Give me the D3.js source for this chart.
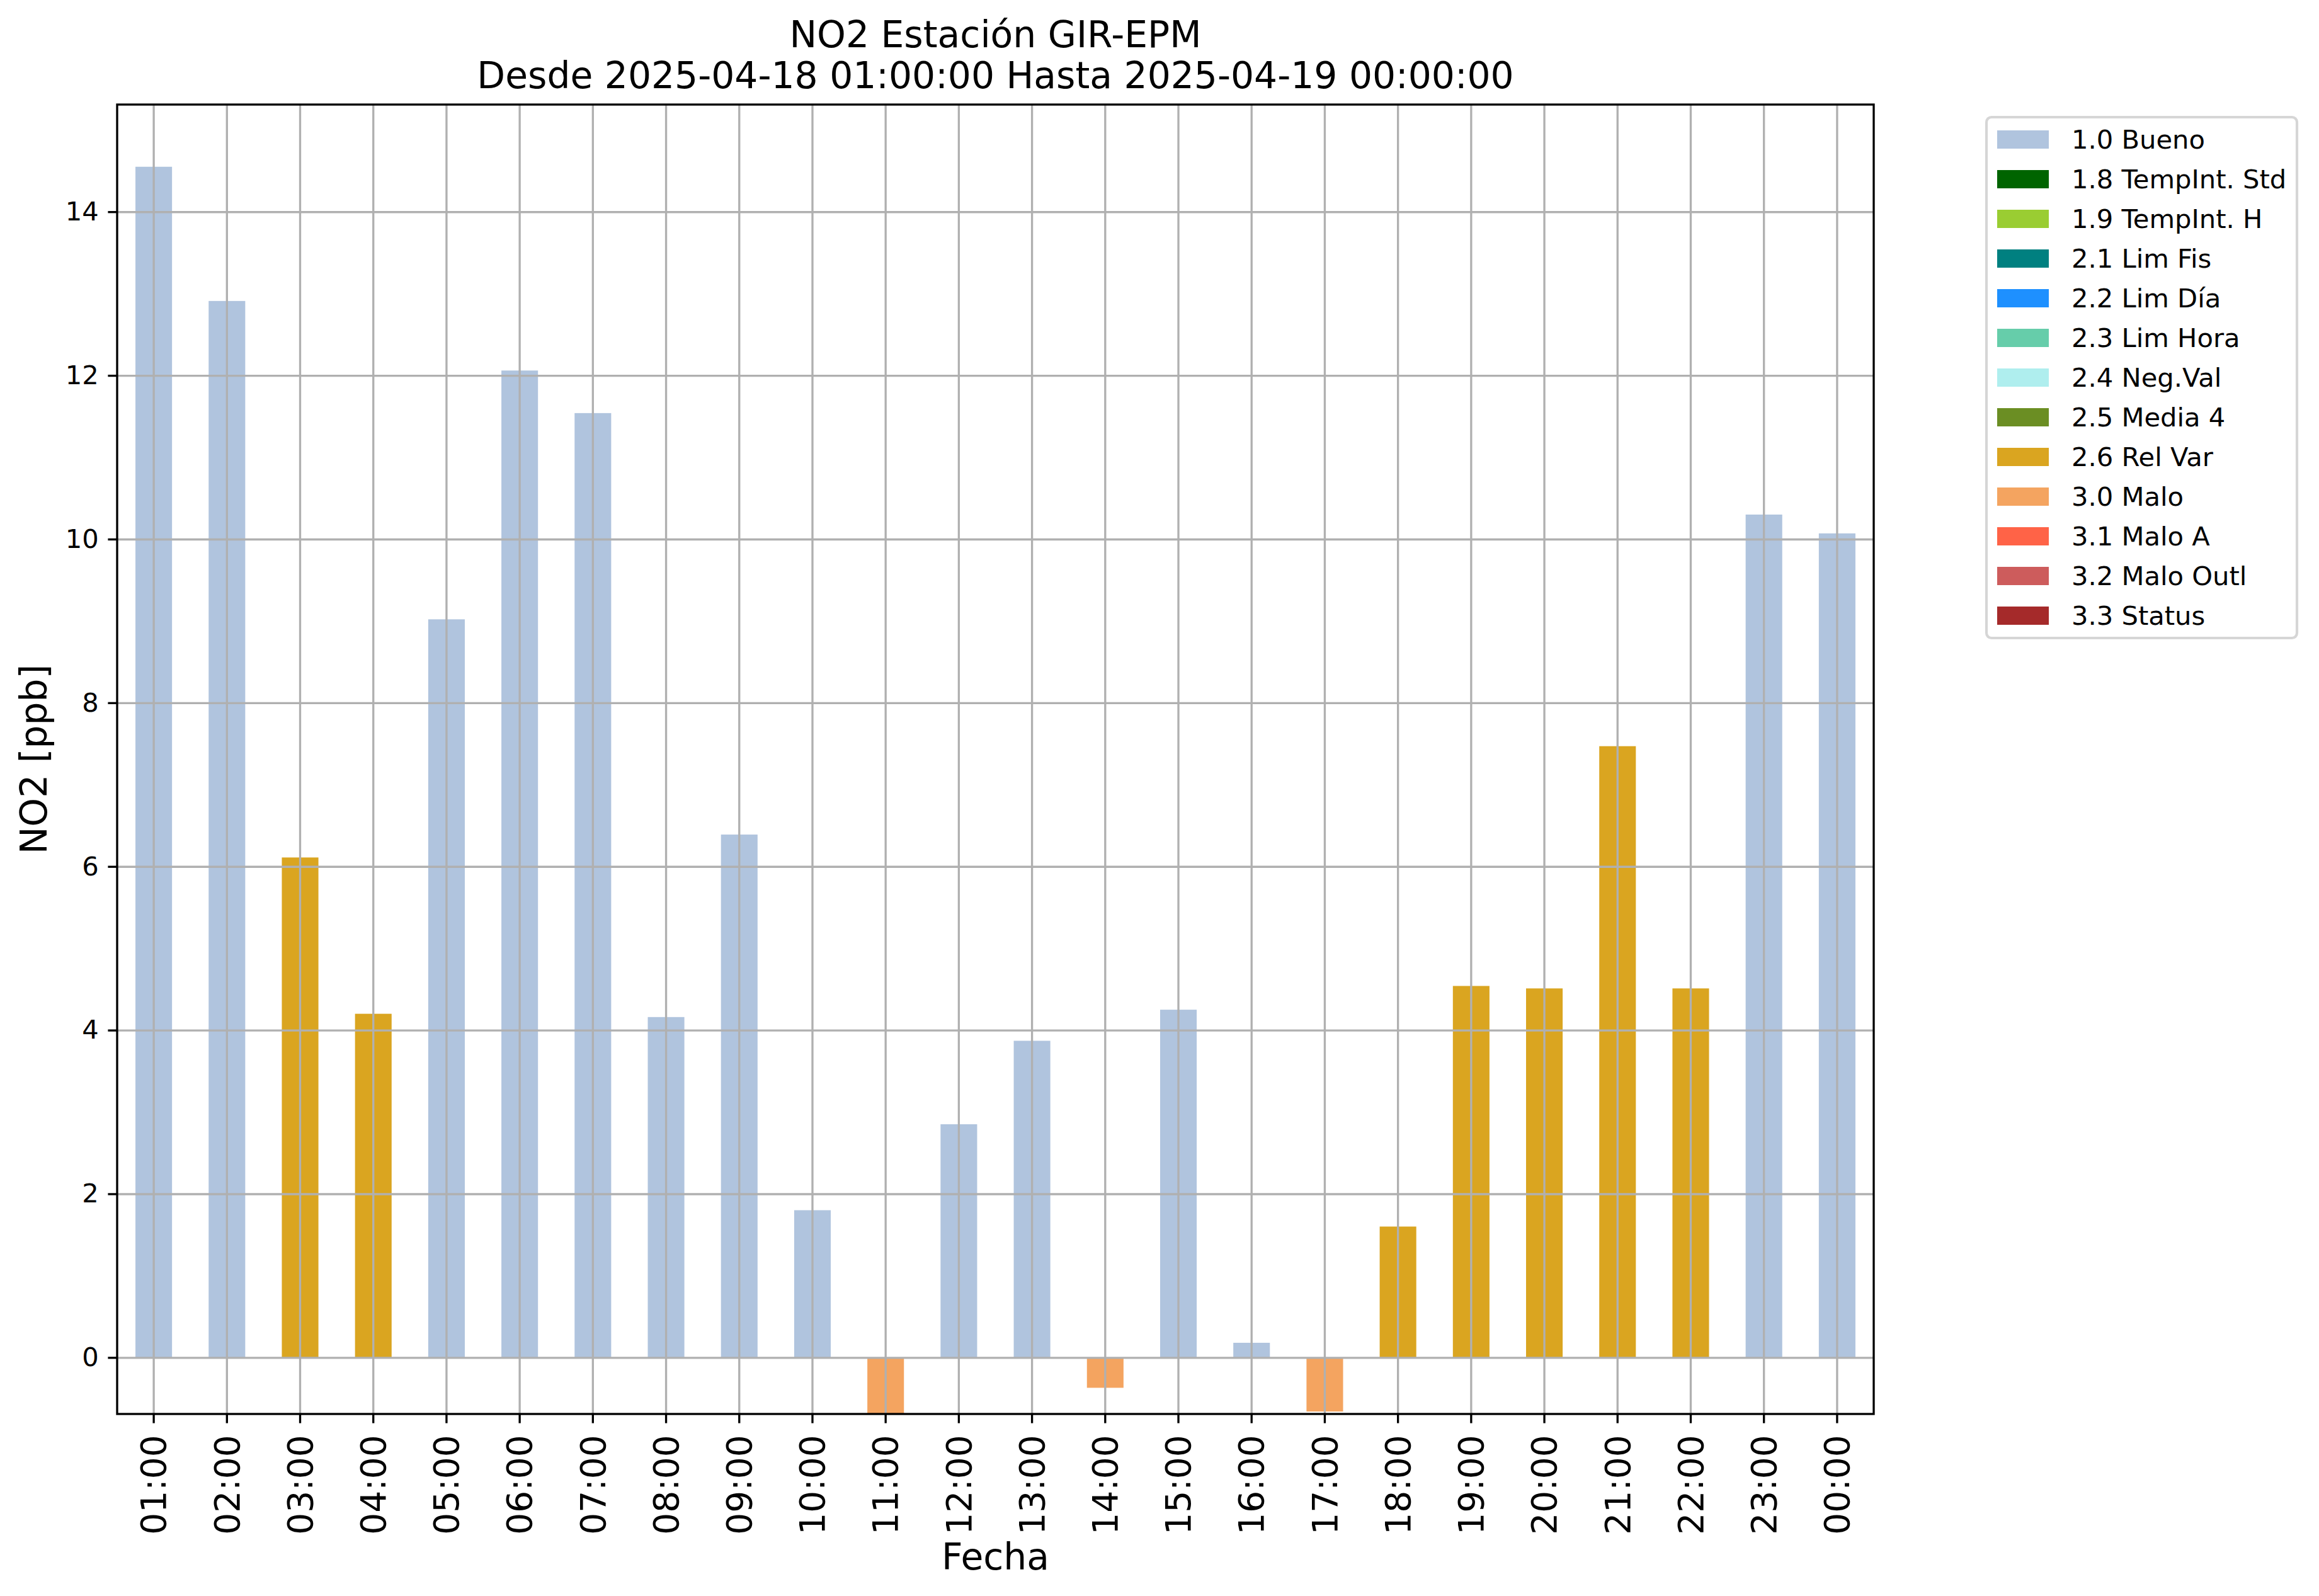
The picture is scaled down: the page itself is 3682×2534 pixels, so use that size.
<!DOCTYPE html>
<html>
<head>
<meta charset="utf-8">
<script src="https://cdn.jsdelivr.net/npm/d3@7"></script>
<style>
    body { margin: 0; background: #ffffff; }
    svg { display: block; font-family: "DejaVu Sans", sans-serif; }
</style>
</head>
<body>
<svg id="chart"></svg>
<script>
// datos
var hours = ["01:00", "02:00", "03:00", "04:00", "05:00", "06:00", "07:00", "08:00",
    "09:00", "10:00", "11:00", "12:00", "13:00", "14:00", "15:00", "16:00",
    "17:00", "18:00", "19:00", "20:00", "21:00", "22:00", "23:00", "00:00"];
var values = [14.55, 12.91, 6.11, 4.20, 9.02, 12.06, 11.54, 4.16,
    6.39, 1.80, -0.80, 2.85, 3.87, -0.37, 4.25, 0.18,
    -0.66, 1.60, 4.54, 4.51, 7.47, 4.51, 10.30, 10.07];
var flags = ["1.0 Bueno", "1.0 Bueno", "2.6 Rel Var", "2.6 Rel Var", "1.0 Bueno", "1.0 Bueno", "1.0 Bueno", "1.0 Bueno",
    "1.0 Bueno", "1.0 Bueno", "3.0 Malo", "1.0 Bueno", "1.0 Bueno", "3.0 Malo", "1.0 Bueno", "1.0 Bueno",
    "3.0 Malo", "2.6 Rel Var", "2.6 Rel Var", "2.6 Rel Var", "2.6 Rel Var", "2.6 Rel Var", "1.0 Bueno", "1.0 Bueno"];
var flagNames = ["1.0 Bueno", "1.8 TempInt. Std", "1.9 TempInt. H", "2.1 Lim Fis", "2.2 Lim Día",
    "2.3 Lim Hora", "2.4 Neg.Val", "2.5 Media 4", "2.6 Rel Var", "3.0 Malo",
    "3.1 Malo A", "3.2 Malo Outl", "3.3 Status"];
var flagColors = ["#B0C4DE", "#006400", "#9ACD32", "#008080", "#1E90FF",
    "#66CDAA", "#AFEEEE", "#6B8E23", "#DAA520", "#F4A460",
    "#FF6347", "#CD5C5C", "#A52A2A"];
var yTicks = [0, 2, 4, 6, 8, 10, 12, 14];
var yDomain = [-0.69, 15.31];

var svgW = 3682, svgH = 2534;
var plot = { left: 186, right: 2975, top: 166, bottom: 2245 };
var lw = 3.33, tickLen = 14.6, tickPad = 14.6;
var gridColor = "#b0b0b0";

var datas = hours.map(function (h, i) {
    return { hour: h, value: values[i], flag: flags[i] };
});

var colorScale = d3.scaleOrdinal().domain(flagNames).range(flagColors);
var xScale = d3.scaleBand().domain(hours).range([plot.left, plot.right]).padding(0);
var yScale = d3.scaleLinear().domain(yDomain).range([plot.bottom, plot.top]);

var svg = d3.select("#chart").attr("width", svgW).attr("height", svgH);
svg.append("rect").attr("width", svgW).attr("height", svgH).attr("fill", "#ffffff");

svg.append("clipPath").attr("id", "plotClip")
    .append("rect")
    .attr("x", plot.left).attr("y", plot.top)
    .attr("width", plot.right - plot.left)
    .attr("height", plot.bottom - plot.top);

// barras
var barW = xScale.bandwidth() * 0.5;
svg.append("g").attr("clip-path", "url(#plotClip)")
    .selectAll("rect")
    .data(datas)
    .enter()
    .append("rect")
    .attr("x", function (d) { return xScale(d.hour) + xScale.bandwidth() / 2 - barW / 2; })
    .attr("width", barW)
    .attr("y", function (d) { return yScale(Math.max(0, d.value)); })
    .attr("height", function (d) { return Math.abs(yScale(d.value) - yScale(0)); })
    .attr("fill", function (d) { return colorScale(d.flag); });

// grilla encima de las barras
var xAxisG = svg.append("g").attr("transform", `translate(0,${plot.bottom})`);
xAxisG.call(d3.axisBottom(xScale).tickSizeInner(-(plot.bottom - plot.top)).tickSizeOuter(0).tickFormat(""));
xAxisG.select(".domain").remove();
xAxisG.selectAll(".tick line").attr("stroke", gridColor).attr("stroke-width", lw);

var yAxisG = svg.append("g").attr("transform", `translate(${plot.left},0)`);
yAxisG.call(d3.axisLeft(yScale).tickValues(yTicks).tickSizeInner(-(plot.right - plot.left)).tickSizeOuter(0).tickFormat(""));
yAxisG.select(".domain").remove();
yAxisG.selectAll(".tick line").attr("stroke", gridColor).attr("stroke-width", lw);

// ticks y etiquetas
var xTickG = svg.append("g").attr("transform", `translate(0,${plot.bottom})`);
xTickG.call(d3.axisBottom(xScale).tickSizeInner(tickLen).tickSizeOuter(0).tickPadding(tickPad));
xTickG.select(".domain").remove();
xTickG.selectAll(".tick line").attr("stroke", "#000").attr("stroke-width", lw);
xTickG.selectAll(".tick text")
    .attr("font-size", 55)
    .attr("font-family", "DejaVu Sans")
    .attr("fill", "#000")
    .attr("text-anchor", "end")
    .attr("transform", `translate(0,${tickLen + tickPad + 4}) rotate(-90)`)
    .attr("x", 0)
    .attr("y", 0)
    .attr("dy", "0.35em");

var yTickG = svg.append("g").attr("transform", `translate(${plot.left},0)`);
yTickG.call(d3.axisLeft(yScale).tickValues(yTicks).tickSizeInner(tickLen).tickSizeOuter(0).tickPadding(tickPad));
yTickG.select(".domain").remove();
yTickG.selectAll(".tick line").attr("stroke", "#000").attr("stroke-width", lw);
yTickG.selectAll(".tick text")
    .attr("font-size", 41.67)
    .attr("font-family", "DejaVu Sans")
    .attr("fill", "#000");

// marco
svg.append("rect")
    .attr("x", plot.left).attr("y", plot.top)
    .attr("width", plot.right - plot.left)
    .attr("height", plot.bottom - plot.top)
    .attr("fill", "none")
    .attr("stroke", "#000")
    .attr("stroke-width", lw);

// titulos
var cx = (plot.left + plot.right) / 2;
svg.append("text").attr("x", cx).attr("y", 75)
    .attr("text-anchor", "middle").attr("font-size", 58.3)
    .text("NO2 Estación GIR-EPM");
svg.append("text").attr("x", cx).attr("y", 140)
    .attr("text-anchor", "middle").attr("font-size", 58.3)
    .text("Desde 2025-04-18 01:00:00 Hasta 2025-04-19 00:00:00");
svg.append("text").attr("x", cx).attr("y", 2492)
    .attr("text-anchor", "middle").attr("font-size", 58.3)
    .text("Fecha");
svg.append("text")
    .attr("transform", `translate(74,${(plot.top + plot.bottom) / 2}) rotate(-90)`)
    .attr("text-anchor", "middle").attr("font-size", 58.3)
    .text("NO2 [ppb]");

// leyenda
var legend = { x: 3154, y: 186, w: 493, rowH: 63, first: 221.5 };
var legendG = svg.append("g");
legendG.append("rect")
    .attr("x", legend.x).attr("y", legend.y)
    .attr("width", legend.w)
    .attr("height", legend.first - legend.y + legend.rowH * (flagNames.length - 1) + 14.5 + 21)
    .attr("rx", 8)
    .attr("fill", "#ffffff").attr("fill-opacity", 0.8)
    .attr("stroke", "#d6d6d6").attr("stroke-width", 4.17);
var rows = legendG.selectAll(".legendRow")
    .data(flagNames)
    .enter()
    .append("g")
    .attr("class", "legendRow")
    .attr("transform", function (d, i) { return `translate(0,${legend.first + i * legend.rowH})`; });
rows.append("rect")
    .attr("x", 3171).attr("y", -14.5)
    .attr("width", 82).attr("height", 29)
    .attr("fill", function (d) { return colorScale(d); });
rows.append("text")
    .attr("x", 3289).attr("y", 14.5)
    .attr("font-size", 41.67)
    .text(function (d) { return d; });
</script>
</body>
</html>
